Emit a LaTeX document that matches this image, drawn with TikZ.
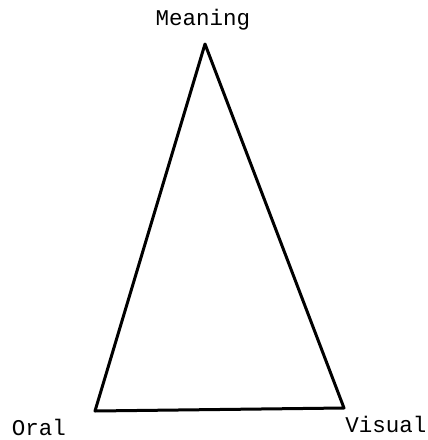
\documentclass[tikz,border=0pt]{standalone}
\usepackage{fontspec}
\setmonofont{Liberation Mono}
\begin{document}
\begin{tikzpicture}[x=1pt,y=-1pt,
  lbl/.style={font=\ttfamily\fontsize{22.5}{24}\selectfont, inner sep=0pt},
  edge/.style={line width=3pt, line join=round, line cap=round}]
\useasboundingbox (0,0) rectangle (428,440);
\coordinate (apex) at (205,44);
\coordinate (bl) at (95,411);
\coordinate (br) at (344,408);
\draw[edge] (apex) -- (br) -- (bl) -- cycle;
\node[lbl] (meaning) at (203,20) {Meaning};
\node[lbl] (oral) at (39,427) {Oral};
\node[lbl] (visual) at (386,424) {Visual};
\end{tikzpicture}
\end{document}
